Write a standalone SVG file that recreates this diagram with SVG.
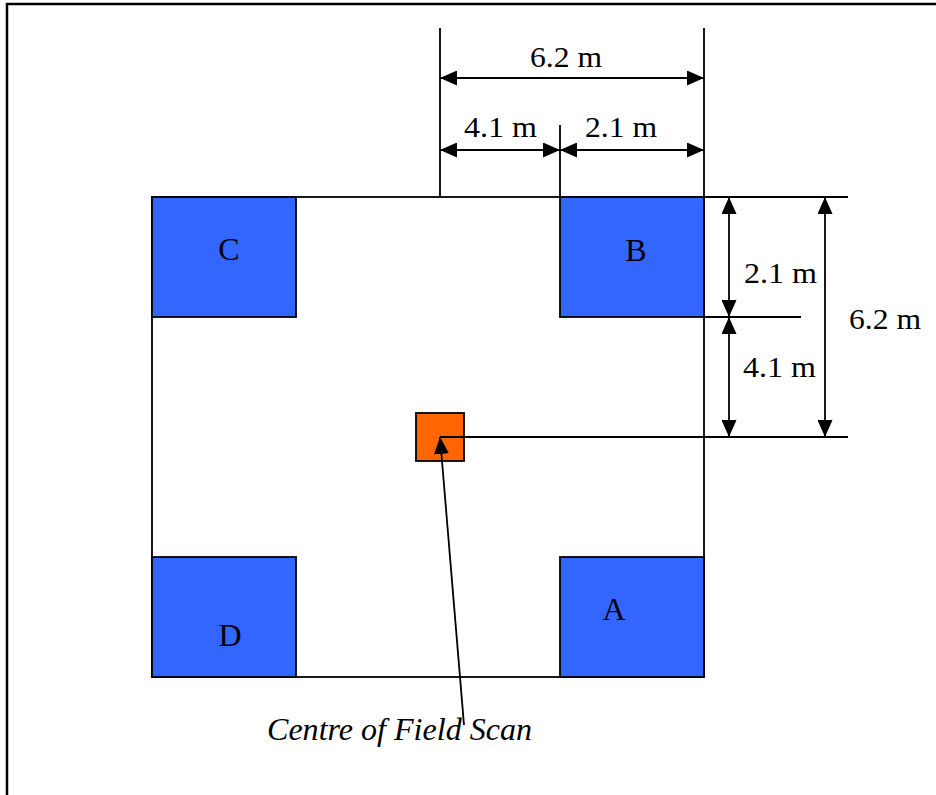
<svg xmlns="http://www.w3.org/2000/svg" width="936" height="795" viewBox="0 0 936 795">
<style>
.ln{stroke:#000;stroke-width:1.8;fill:none}
.blue{fill:#3366FF;stroke:#000;stroke-width:1.8}
.or{fill:#FF6600;stroke:#000;stroke-width:1.8}
.t{font-family:"Liberation Serif","Times New Roman",serif;font-size:30px;fill:#000}
.lt{font-family:"Liberation Serif","Times New Roman",serif;font-size:32px;fill:#000;text-anchor:middle}
.it{font-family:"Liberation Serif","Times New Roman",serif;font-size:31px;font-style:italic;fill:#000}
</style>
<defs>
<marker id="ah" markerUnits="userSpaceOnUse" markerWidth="17" markerHeight="15" refX="17" refY="7.5" orient="auto-start-reverse">
<path d="M0,0 L17,7.5 L0,15 z" fill="#000"/>
</marker>
</defs>
<rect width="936" height="795" fill="#fff"/>
<path d="M7,795 V4 H936" fill="none" stroke="#000" stroke-width="2.5"/>
<g id="field">
<rect x="152" y="197" width="552" height="480" fill="#fff" stroke="#000" stroke-width="1.8"/>
</g>
<g id="C"><rect class="blue" x="152" y="197" width="144" height="120"/><text class="lt" x="229" y="260">C</text></g>
<g id="B"><rect class="blue" x="560" y="197" width="144" height="120"/><text class="lt" x="636" y="261">B</text></g>
<g id="D"><rect class="blue" x="152" y="557" width="144" height="120"/><text class="lt" x="230" y="646">D</text></g>
<g id="A"><rect class="blue" x="560" y="557" width="144" height="120"/><text class="lt" x="614" y="620">A</text></g>
<g id="centre"><rect class="or" x="416" y="413" width="48" height="48"/></g>
<g id="connectors">
<line class="ln" x1="440" y1="28" x2="440" y2="197"/>
<line class="ln" x1="704" y1="28" x2="704" y2="197"/>
<line class="ln" x1="560" y1="125" x2="560" y2="197"/>
<line class="ln" x1="704" y1="197" x2="848" y2="197"/>
<line class="ln" x1="704" y1="317" x2="801" y2="317"/>
<line class="ln" x1="440" y1="437" x2="848" y2="437"/>
<line class="ln" x1="440" y1="78" x2="704" y2="78" marker-start="url(#ah)" marker-end="url(#ah)"/>
<line class="ln" x1="440" y1="150" x2="560" y2="150" marker-start="url(#ah)" marker-end="url(#ah)"/>
<line class="ln" x1="560" y1="150" x2="704" y2="150" marker-start="url(#ah)" marker-end="url(#ah)"/>
<line class="ln" x1="729" y1="197" x2="729" y2="317" marker-start="url(#ah)" marker-end="url(#ah)"/>
<line class="ln" x1="729" y1="317" x2="729" y2="437" marker-start="url(#ah)" marker-end="url(#ah)"/>
<line class="ln" x1="825" y1="197" x2="825" y2="437" marker-start="url(#ah)" marker-end="url(#ah)"/>
<line class="ln" x1="464" y1="725" x2="440" y2="437" marker-end="url(#ah)"/>
</g>
<g id="labels">
<text class="t" x="530" y="67" textLength="72" lengthAdjust="spacingAndGlyphs">6.2 m</text>
<text class="t" x="464" y="137" textLength="73" lengthAdjust="spacingAndGlyphs">4.1 m</text>
<text class="t" x="585" y="137" textLength="72" lengthAdjust="spacingAndGlyphs">2.1 m</text>
<text class="t" x="744" y="283" textLength="73" lengthAdjust="spacingAndGlyphs">2.1 m</text>
<text class="t" x="743" y="377" textLength="73" lengthAdjust="spacingAndGlyphs">4.1 m</text>
<text class="t" x="849" y="329" textLength="72" lengthAdjust="spacingAndGlyphs">6.2 m</text>
<text class="it" x="267" y="740" textLength="265" lengthAdjust="spacingAndGlyphs">Centre of Field Scan</text>
</g>
</svg>
